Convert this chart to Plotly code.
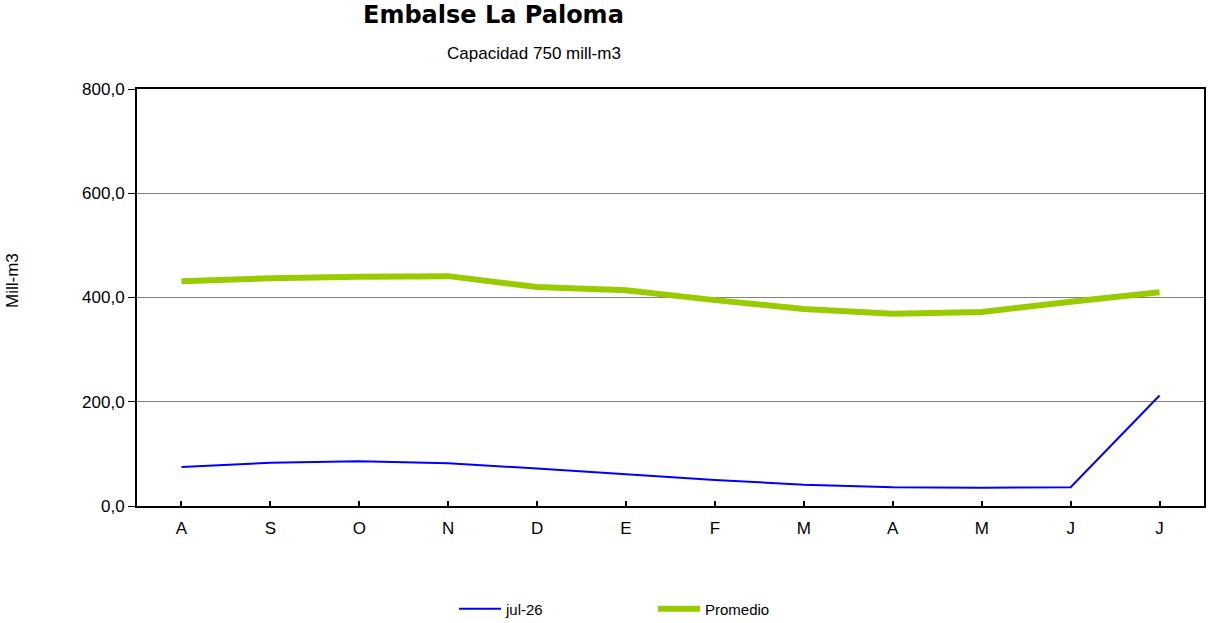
import plotly.graph_objects as go

months = ["A", "S", "O", "N", "D", "E", "F", "M", "A", "M", "J", "J"]
jul26 = [75, 83, 86, 82, 72, 61, 50, 41, 36, 35, 36, 212]
promedio = [431, 437, 440, 441, 420, 414, 395, 378, 369, 372, 392, 410]
yticks = [0, 200, 400, 600, 800]

x = list(range(len(months)))

W, H = 1210, 623
L, R, T, B = 137, 6, 89, 117
pw, ph = W - L - R, H - T - B


def px_x(px):
    return (px - L) / pw


def px_y(py):
    return (H - B - py) / ph


fig = go.Figure()
fig.add_trace(go.Scatter(x=x, y=jul26, mode="lines", name="jul-26",
                         line=dict(color="#0000FF", width=2)))
fig.add_trace(go.Scatter(x=x, y=promedio, mode="lines", name="Promedio",
                         line=dict(color="#99CC00", width=6)))

fig.update_layout(
    width=W, height=H,
    margin=dict(l=L, r=R, t=T, b=B, autoexpand=False),
    paper_bgcolor="white", plot_bgcolor="white",
    font=dict(family="Liberation Sans, Arial, sans-serif", size=17, color="black"),
    separators=",.",
    showlegend=True,
    legend=dict(orientation="h", x=px_x(454), xanchor="left", y=px_y(609), yanchor="middle",
                font=dict(size=15), itemwidth=42, entrywidth=142, entrywidthmode="pixels"),
    annotations=[
        dict(text="<b>Embalse La Paloma</b>", xref="paper", yref="paper",
             x=px_x(493), y=px_y(15), xanchor="center", yanchor="middle",
             showarrow=False, font=dict(size=24, family="DejaVu Sans, Verdana, sans-serif")),
        dict(text="Capacidad 750 mill-m3", xref="paper", yref="paper",
             x=px_x(534), y=px_y(53), xanchor="center", yanchor="middle",
             showarrow=False, font=dict(size=17)),
        dict(text="Mill-m3", xref="paper", yref="paper", x=px_x(12), y=px_y(281),
             textangle=-90, showarrow=False, font=dict(size=17),
             xanchor="center", yanchor="middle"),
    ],
)

fig.update_xaxes(
    tickmode="array", tickvals=x, ticktext=months, range=[-0.5, len(months) - 0.5],
    ticks="inside", tickson="boundaries", ticklen=5, tickwidth=2, tickcolor="black",
    ticklabelstandoff=6,
    showline=True, linecolor="black", linewidth=2, mirror=True,
    showgrid=False, zeroline=False, tickfont=dict(size=17),
)
fig.update_yaxes(
    range=[0, 800], tickvals=yticks, tickformat=".1f",
    ticks="outside", ticklen=7, tickwidth=1, tickcolor="black",
    showline=True, linecolor="black", linewidth=2, mirror=True,
    showgrid=True, gridcolor="#808080", gridwidth=1, zeroline=False,
    tickfont=dict(size=17),
)

fig.write_html("out.html", config={"displayModeBar": False},
               post_script="document.body.style.margin='0';document.body.style.overflow='hidden';")
